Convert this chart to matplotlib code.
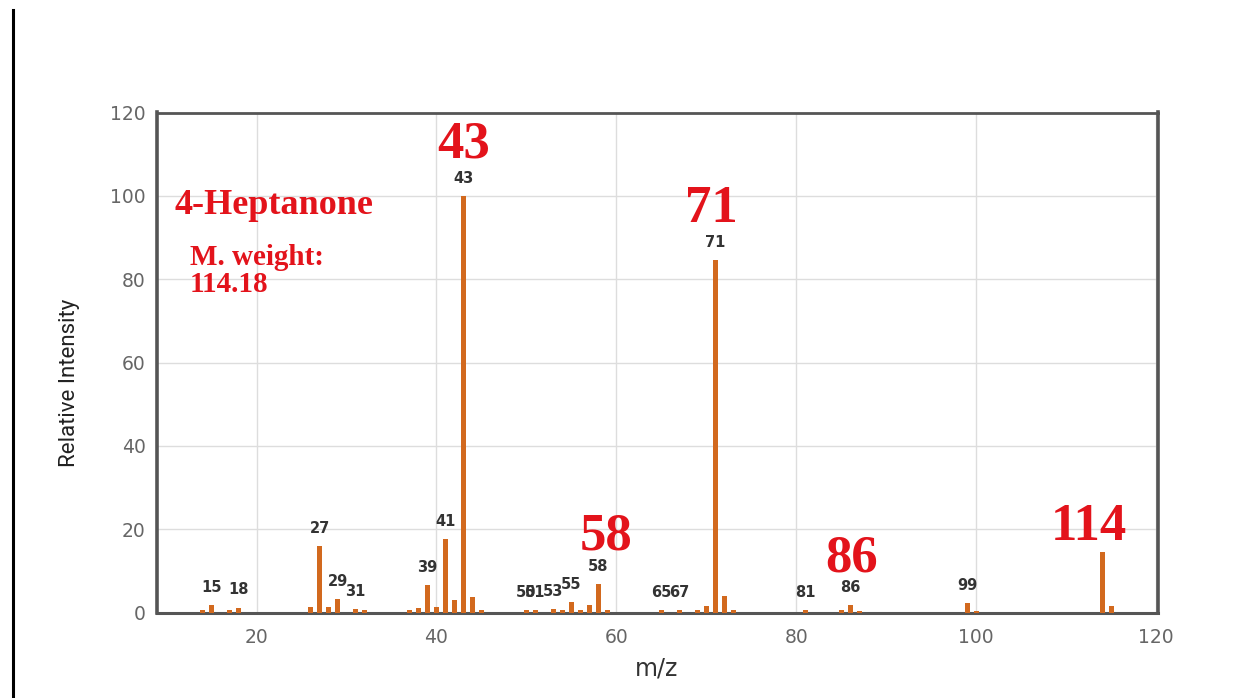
import matplotlib
matplotlib.use("Agg")
import matplotlib.pyplot as plt
from matplotlib.lines import Line2D

# m/z values and relative intensities
mz = [14, 15, 17, 18, 26, 27, 28, 29, 31, 32, 37, 38, 39, 40, 41, 42, 43, 44, 45,
      50, 51, 53, 54, 55, 56, 57, 58, 59, 65, 67, 69, 70, 71, 72, 73,
      81, 85, 86, 87, 99, 100, 114, 115]
intensity = [0.7, 1.7, 0.6, 1.2, 1.3, 16.0, 1.3, 3.2, 0.8, 0.7, 0.5, 1.0, 6.5, 1.3, 17.6, 2.9, 100, 3.7, 0.5,
             0.5, 0.5, 0.8, 0.5, 2.5, 0.7, 1.7, 6.9, 0.6, 0.5, 0.6, 0.7, 1.5, 84.6, 3.9, 0.5,
             0.5, 0.5, 1.7, 0.4, 2.2, 0.3, 14.5, 1.5]

# peaks that carry a small number label
label_mz = [15, 18, 27, 29, 31, 39, 41, 43, 50, 51, 53, 55, 58, 65, 67, 71, 81, 86, 99]

# big red annotations: text, x, y
big_labels = ["43", "71", "58", "86", "114"]
big_x = [43.0, 70.6, 58.8, 86.1, 112.5]
big_y = [112.2, 96.8, 18.2, 13.0, 20.4]

x_ticks = [20, 40, 60, 80, 100, 120]
y_ticks = [0, 20, 40, 60, 80, 100, 120]

fig = plt.figure(figsize=(12.48, 6.98), dpi=100)
ax = fig.add_axes([156.7 / 1248, 1 - 612.5 / 698, (1158 - 156.7) / 1248, (612.5 - 112.5) / 698])

bar_color = "#d2691e"
ax.bar(mz, intensity, width=0.6, color=bar_color, zorder=3)

lookup = dict(zip(mz, intensity))
for m in label_mz:
    ax.annotate(str(m), (m, lookup[m]), xytext=(0, 12.6), textcoords="offset points",
                ha="center", va="center", fontsize=10.5, fontweight="bold", color="#333333",
                zorder=4)

red = "#e3131b"
for t, x, y in zip(big_labels, big_x, big_y):
    ax.text(x, y, t, ha="center", va="center", fontsize=38, fontweight="bold",
            family="Liberation Serif", color=red, zorder=5)

ax.text(10.9, 97.8, "4-Heptanone", ha="left", va="center", fontsize=26, fontweight="bold",
        family="Liberation Serif", color=red, zorder=5)
ax.text(12.6, 85.3, "M. weight:", ha="left", va="center", fontsize=21, fontweight="bold",
        family="Liberation Serif", color=red, zorder=5)
ax.text(12.6, 78.6, "114.18", ha="left", va="center", fontsize=21, fontweight="bold",
        family="Liberation Serif", color=red, zorder=5)

ax.set_xlim(8.9, 120.2)
ax.set_ylim(0, 120)
ax.set_xticks(x_ticks)
ax.set_yticks(y_ticks)
ax.grid(True, color="#dddddd", linewidth=1, zorder=0)
ax.tick_params(axis="both", length=0, labelsize=13.5, labelcolor="#666666")
ax.tick_params(axis="x", pad=11)
ax.tick_params(axis="y", pad=8)

for side, lw in [("left", 2.6), ("right", 2.6), ("top", 2.0), ("bottom", 2.2)]:
    ax.spines[side].set_color("#555555")
    ax.spines[side].set_linewidth(lw)

fig.text(657 / 1248, 1 - 668 / 698, "m/z", ha="center", va="center", fontsize=17, color="#333333")
fig.text(70 / 1248, 1 - 383 / 698, "Relative Intensity", ha="center", va="center", rotation=90,
         fontsize=16, color="#222222", family=["Liberation Sans Narrow", "Roboto", "DejaVu Sans"])

# left frame line
fig.add_artist(Line2D([13 / 1248, 13 / 1248], [0, 1 - 10 / 698], color="black", linewidth=2.2,
                      transform=fig.transFigure))

fig.savefig("out.png", dpi=100)
